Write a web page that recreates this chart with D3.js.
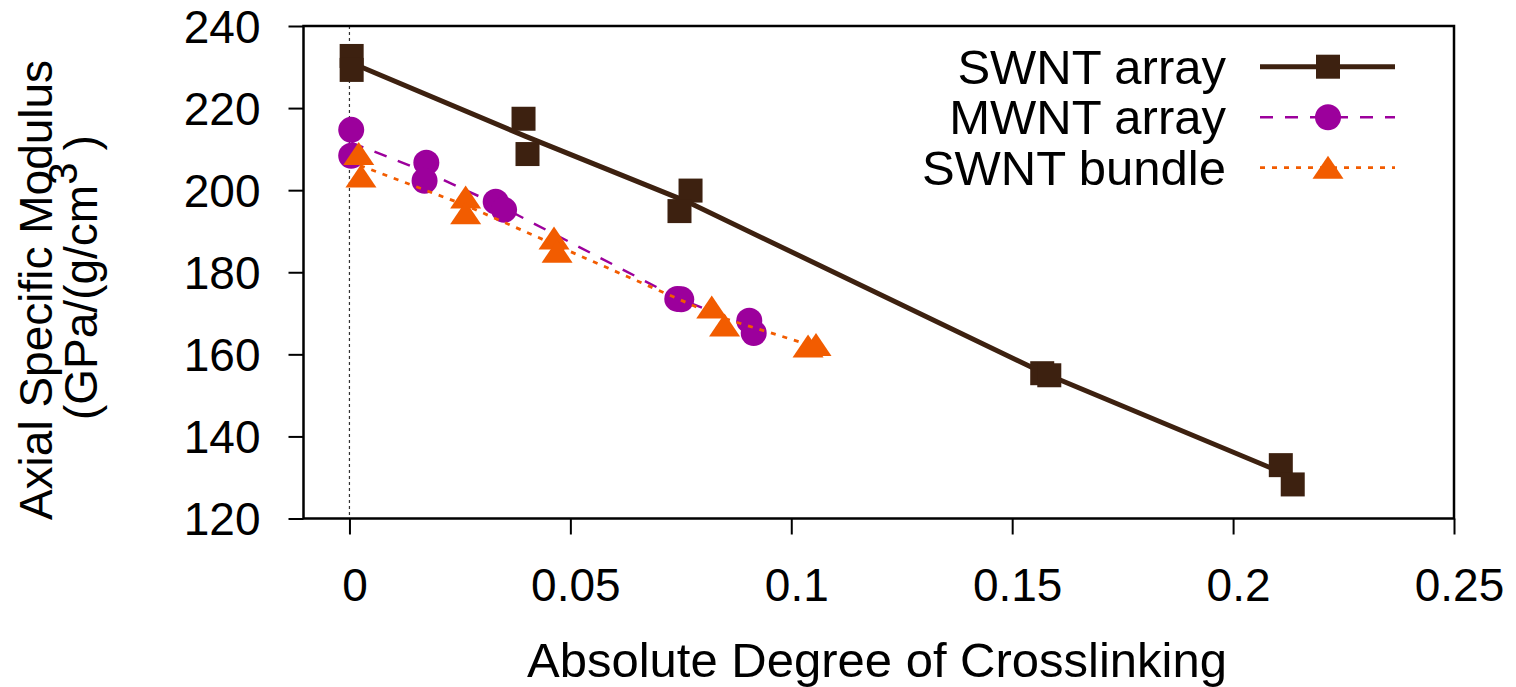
<!DOCTYPE html>
<html>
<head>
<meta charset="utf-8">
<script src="https://cdn.jsdelivr.net/npm/d3@7"></script>
<style>
  body { margin: 0; background: #fff; }
  text { font-family: "Liberation Sans", Arial, sans-serif; fill: #000; }
</style>
</head>
<body>
<svg class="chart"></svg>
<script>
// measured points
const swntArrayX = [0.0005, 0.0005, 0.0394, 0.0403, 0.0772, 0.0747, 0.1568, 0.1584, 0.2108, 0.2135];
const swntArrayY = [232.7, 229.3, 217.4, 208.8, 199.9, 194.9, 155.4, 154.9, 133.0, 128.3];
const mwntArrayX = [0.0004, 0.0004, 0.0174, 0.0170, 0.0331, 0.0350, 0.0742, 0.0751, 0.0905, 0.0915];
const mwntArrayY = [214.7, 208.4, 206.7, 202.3, 197.2, 195.2, 173.5, 173.4, 168.2, 165.2];
const swntBundleX = [0.0021, 0.0026, 0.0263, 0.0263, 0.0463, 0.0470, 0.0820, 0.0849, 0.1038, 0.1056];
const swntBundleY = [208.8, 203.3, 198.2, 194.4, 188.2, 185.0, 171.4, 167.0, 161.9, 162.3];

// connecting lines
const swntArrayLineX = [0.0005, 0.0399, 0.0760, 0.1576, 0.2122];
const swntArrayLineY = [231.0, 213.1, 197.4, 155.2, 130.7];
const mwntArrayLineX = [0.0004, 0.0172, 0.0340, 0.0747, 0.0910];
const mwntArrayLineY = [211.6, 204.5, 196.2, 173.5, 166.7];
const swntBundleLineX = [0.0024, 0.0263, 0.0467, 0.0835, 0.1047];
const swntBundleLineY = [206.0, 196.3, 186.6, 169.2, 162.1];

const seriesNames = ["SWNT array", "MWNT array", "SWNT bundle"];
const xTicks = [0, 0.05, 0.1, 0.15, 0.2, 0.25];
const yTicks = [120, 140, 160, 180, 200, 220, 240];

const W = 1516, H = 687;
const plot = { left: 303.5, right: 1454, top: 26, bottom: 518.5 };

const svg = d3.select(".chart").attr("width", W).attr("height", H);

const x = d3.scaleLinear().domain([-0.0104, 0.25]).range([plot.left, plot.right]);
const y = d3.scaleLinear().domain([120, 240]).range([plot.bottom, plot.top]);

const series = [
    { name: seriesNames[0], xs: swntArrayX, ys: swntArrayY, lx: swntArrayLineX, ly: swntArrayLineY,
      color: "#3d2110", width: 5, dash: null, shape: "square" },
    { name: seriesNames[1], xs: mwntArrayX, ys: mwntArrayY, lx: mwntArrayLineX, ly: mwntArrayLineY,
      color: "#9c009c", width: 2.5, dash: "13,12", shape: "circle" },
    { name: seriesNames[2], xs: swntBundleX, ys: swntBundleY, lx: swntBundleLineX, ly: swntBundleLineY,
      color: "#f25c00", width: 2.8, dash: "5,7", shape: "triangle" }
];

// axes
const tickFont = 46, labelFont = 49;
const yAxis = svg.append("g")
    .attr("transform", `translate(${plot.left},0)`)
    .call(d3.axisLeft(y).tickValues(yTicks).tickSize(15).tickPadding(28).tickFormat(d3.format("d")));
const xAxis = svg.append("g")
    .attr("transform", `translate(0,${plot.bottom})`)
    .call(d3.axisBottom(x).tickValues(xTicks).tickSize(16).tickPadding(30).tickFormat(d => d === 0 ? "0" : String(d)));

[xAxis, yAxis].forEach(g => {
    g.select(".domain").remove();
    g.selectAll(".tick line").attr("stroke", "#000").attr("stroke-width", 2);
    g.selectAll(".tick text").attr("font-size", tickFont)
        .style("font-family", "'Liberation Sans', Arial, sans-serif").attr("fill", "#000");
});
xAxis.selectAll(".tick text").attr("dx", 5).attr("dy", "0.8em");
yAxis.selectAll(".tick text").attr("dy", "0.35em");

// zero line
svg.append("line")
    .attr("x1", x(0)).attr("x2", x(0)).attr("y1", plot.top).attr("y2", plot.bottom)
    .attr("stroke", "#333").attr("stroke-width", 1.2).attr("stroke-dasharray", "3,3");

// frame
svg.append("rect")
    .attr("x", plot.left).attr("y", plot.top)
    .attr("width", plot.right - plot.left).attr("height", plot.bottom - plot.top)
    .attr("fill", "none").attr("stroke", "#000").attr("stroke-width", 2.5);

// markers
function drawMarker(g, shape, color, cx, cy) {
    if (shape === "square") {
        g.append("rect").attr("x", cx - 12).attr("y", cy - 12)
            .attr("width", 24).attr("height", 24).attr("fill", color);
    } else if (shape === "circle") {
        g.append("circle").attr("cx", cx).attr("cy", cy).attr("r", 13).attr("fill", color);
    } else {
        g.append("path")
            .attr("d", `M${cx},${cy - 12}L${cx + 15.5},${cy + 11}L${cx - 15.5},${cy + 11}Z`)
            .attr("fill", color);
    }
}

const line = d3.line().x(d => x(d[0])).y(d => y(d[1]));

series.forEach(s => {
    const g = svg.append("g");
    g.append("path")
        .datum(d3.zip(s.lx, s.ly))
        .attr("d", line)
        .attr("fill", "none")
        .attr("stroke", s.color)
        .attr("stroke-width", s.width)
        .attr("stroke-dasharray", s.dash);
    d3.zip(s.xs, s.ys).forEach(([vx, vy]) => drawMarker(g, s.shape, s.color, x(vx), y(vy)));
});

// legend
const legend = svg.append("g");
series.forEach((s, i) => {
    const ly = 66.7 + i * 50.5;
    legend.append("text")
        .attr("x", 1226).attr("y", ly + 17)
        .attr("text-anchor", "end").attr("font-size", labelFont)
        .text(s.name);
    legend.append("line")
        .attr("x1", 1260).attr("x2", 1395).attr("y1", ly).attr("y2", ly)
        .attr("stroke", s.color).attr("stroke-width", s.width)
        .attr("stroke-dasharray", s.dash);
    drawMarker(legend, s.shape, s.color, 1328, ly);
});

// axis titles
svg.append("text")
    .attr("x", 877).attr("y", 677)
    .attr("text-anchor", "middle").attr("font-size", labelFont)
    .text("Absolute Degree of Crosslinking");

const yLab = svg.append("text")
    .attr("transform", "translate(52,290) rotate(-90)")
    .attr("text-anchor", "middle").attr("font-size", tickFont);
yLab.append("tspan").attr("x", 0).attr("y", 0).text("Axial Specific Modulus");
const l2 = svg.append("text")
    .attr("transform", "translate(97,420) rotate(-90)")
    .attr("text-anchor", "start").attr("font-size", tickFont);
l2.append("tspan").text("(GPa/(g/cm");
l2.append("tspan").attr("font-size", 40).attr("dy", -20).text("3");
l2.append("tspan").attr("dy", 20).attr("dx", 12).text(")");
</script>
</body>
</html>
